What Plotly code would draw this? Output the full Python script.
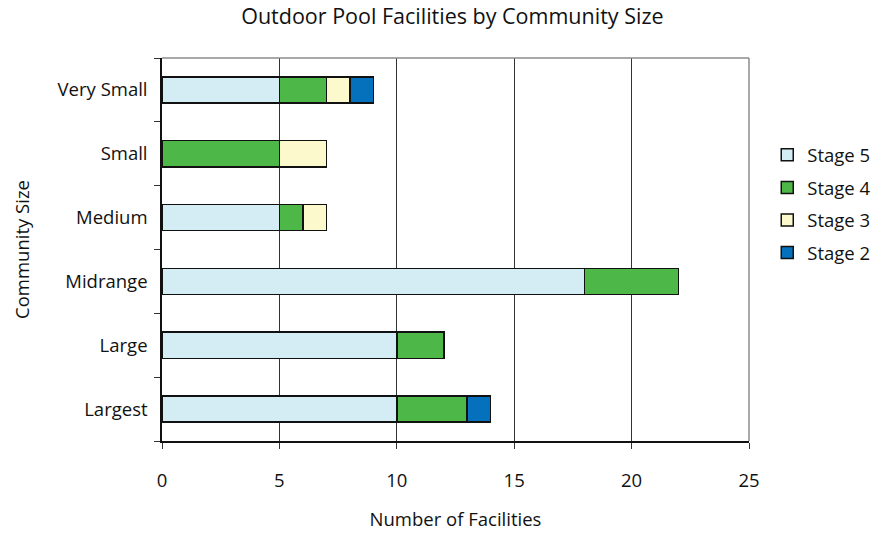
import plotly.graph_objects as go

# Community size groups, listed top to bottom
sizes = ["Very Small", "Small", "Medium", "Midrange", "Large", "Largest"]

# Number of outdoor pool facilities per stage (None = no facilities)
stage5 = [5, None, 5, 18, 10, 10]
stage4 = [2, 5, 1, 4, 2, 3]
stage3 = [1, 2, 1, None, None, None]
stage2 = [1, None, None, None, None, 1]

x_ticks = [0, 5, 10, 15, 20, 25]

series = [
    ("Stage 5", stage5, "#D4ECF3"),
    ("Stage 4", stage4, "#4DB848"),
    ("Stage 3", stage3, "#FCF9CC"),
    ("Stage 2", stage2, "#0571BC"),
]

FONT = "Open Sans, Noto Sans, sans-serif"

fig = go.Figure()
for name, vals, color in series:
    fig.add_trace(go.Bar(
        y=sizes, x=vals, name=name, orientation="h",
        legendgroup=name,
        marker=dict(color=color, line=dict(color="#111111", width=1.5)),
    ))

fig.update_layout(
    width=887, height=535,
    barmode="stack",
    bargap=0.59,
    plot_bgcolor="white", paper_bgcolor="white",
    margin=dict(l=162, r=138, t=58, b=94, autoexpand=False),
    font=dict(family=FONT, size=18.5, color="#111111"),
    title=dict(text="Outdoor Pool Facilities by Community Size",
               x=0.51, xanchor="center", y=0.97, yanchor="middle",
               font=dict(size=21.5, family=FONT, color="#111111")),
    legend=dict(xref="container", yref="container",
                x=0.865, xanchor="left", y=0.619, yanchor="middle",
                traceorder="grouped", tracegroupgap=5.5,
                font=dict(size=18.5, family=FONT),
                itemwidth=30),
    xaxis=dict(range=[0, 25], tickvals=x_ticks, ticks="outside", ticklen=6,
               tickcolor="#333333", showline=True, linecolor="#111111",
               linewidth=1.5, showgrid=True, gridcolor="#333333", gridwidth=1,
               zeroline=False, ticklabelstandoff=16, automargin=False,
               title=dict(text="Number of Facilities", standoff=22,
                          font=dict(size=18.5))),
    yaxis=dict(categoryorder="array", categoryarray=sizes[::-1],
               tickson="boundaries", ticks="outside", ticklen=6,
               tickcolor="#333333", showline=True, linecolor="#111111",
               linewidth=1.5, showgrid=False, ticklabelstandoff=9,
               automargin=False,
               title=dict(text="Community Size", standoff=23,
                          font=dict(size=18.5))),
)

# Light gray frame on the top and right sides of the plot area
fig.add_shape(type="line", xref="x domain", yref="y domain",
              x0=0, x1=1, y0=1, y1=1, line=dict(color="#8C8C8C", width=1.5))
fig.add_shape(type="line", xref="x domain", yref="y domain",
              x0=1, x1=1, y0=0, y1=1, line=dict(color="#8C8C8C", width=1.5))

fig.write_html("out.html")
